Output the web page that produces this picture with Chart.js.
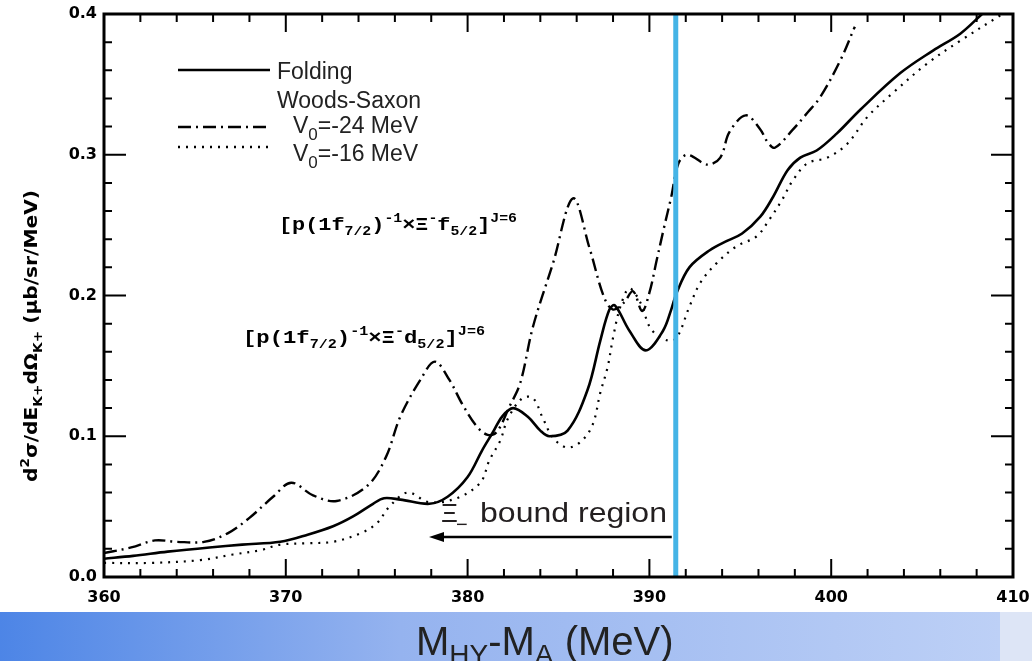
<!DOCTYPE html>
<html lang="en">
<head>
    <meta charset="UTF-8">
    <title>Xi- hypernuclear spectrum</title>
    <script src="https://cdn.jsdelivr.net/npm/chart.js"></script>
    <style>
        body { margin: 0; background: #fff; }
        #wrap { position: relative; width: 1032px; height: 661px; }
    </style>
</head>
<body>
<div id="wrap"><canvas id="chart" width="1032" height="661"></canvas></div>
<script>
// Folding (solid)
const foldE = [360, 361.6, 363.5, 365.8, 367.6, 369.7, 371.2, 372.6, 373.7, 374.8, 375.4, 376.3, 377.9, 378.9, 380, 380.8, 381.4, 381.9, 382.5, 383.3, 384, 384.5, 385.5, 386.6, 387.3, 387.8, 388.1, 388.9, 389.8, 390.75, 391.2, 391.5, 392.2, 393.3, 394.3, 395.1, 396.1, 396.8, 397.6, 398.3, 399.2, 400.3, 401.6, 403.8, 405.6, 407.1, 408.3];
const foldXs = [0.013, 0.015, 0.018, 0.021, 0.023, 0.025, 0.030, 0.036, 0.043, 0.052, 0.056, 0.055, 0.052, 0.057, 0.071, 0.090, 0.103, 0.114, 0.120, 0.114, 0.104, 0.100, 0.104, 0.133, 0.168, 0.190, 0.193, 0.175, 0.161, 0.175, 0.190, 0.202, 0.220, 0.232, 0.239, 0.244, 0.256, 0.270, 0.289, 0.298, 0.303, 0.315, 0.332, 0.358, 0.374, 0.386, 0.400];

// Woods-Saxon V0 = -24 MeV (dash-dot)
const ws24E = [360, 361.5, 362.8, 364, 365.5, 366.8, 368, 369.3, 370.3, 371.5, 372.8, 374.5, 375.5, 376.3, 377.4, 378.2, 379, 379.7, 380.5, 381.1, 381.6, 382.3, 382.9, 383.6, 384.7, 385.8, 386.7, 387.5, 388, 388.6, 389.1, 389.6, 390, 390.4, 390.8, 391.2, 391.6, 392.1, 393.2, 393.9, 394.4, 395.3, 396.1, 396.5, 396.9, 397.9, 398.7, 399.4, 400.5, 401.3];
const ws24Xs = [0.017, 0.021, 0.026, 0.025, 0.025, 0.031, 0.042, 0.057, 0.067, 0.058, 0.054, 0.065, 0.085, 0.114, 0.140, 0.153, 0.140, 0.123, 0.107, 0.101, 0.103, 0.121, 0.138, 0.178, 0.223, 0.269, 0.234, 0.199, 0.190, 0.195, 0.203, 0.189, 0.202, 0.225, 0.248, 0.270, 0.294, 0.300, 0.293, 0.298, 0.316, 0.328, 0.318, 0.309, 0.305, 0.318, 0.330, 0.341, 0.367, 0.391];

// Woods-Saxon V0 = -16 MeV (dotted)
const ws16E = [360, 362.5, 365.3, 367.1, 368.6, 369.7, 371.2, 372.6, 374.1, 375, 375.7, 376.7, 377.9, 379.4, 380.7, 381.2, 381.8, 382.2, 383, 383.6, 384.1, 384.7, 385.5, 386.3, 386.9, 387.3, 387.7, 388, 388.4, 388.9, 389.5, 390.1, 391, 391.5, 392.2, 392.8, 393.7, 394.8, 395.9, 396.6, 397.3, 397.9, 398.7, 399.8, 400.9, 402, 403.4, 405.3, 407.1, 409.3];
const ws16Xs = [0.010, 0.010, 0.012, 0.016, 0.019, 0.023, 0.024, 0.025, 0.031, 0.038, 0.050, 0.060, 0.053, 0.056, 0.067, 0.083, 0.097, 0.112, 0.127, 0.127, 0.114, 0.099, 0.092, 0.097, 0.109, 0.131, 0.149, 0.170, 0.192, 0.205, 0.195, 0.176, 0.168, 0.170, 0.192, 0.209, 0.223, 0.235, 0.242, 0.254, 0.268, 0.282, 0.294, 0.298, 0.308, 0.327, 0.344, 0.365, 0.381, 0.399];

const xTicks = [360, 370, 380, 390, 400, 410];
const yTicks = [0.0, 0.1, 0.2, 0.3, 0.4];
const boundE = 391.45;   // edge of the Xi- bound region

const toPts = (es, vs) => es.map((e, i) => ({ x: e, y: vs[i] }));

const dashDot = [13, 5, 2, 5];
const dots = [2, 6];

// text with sub/superscript pieces, squeezed to a given width
function rich(ctx, parts, x, y, width, size, family) {
    const fs = [size, size * 0.68, size * 0.68];
    const dy = [0, size * 0.3, -size * 0.45];
    let total = 0;
    parts.forEach(p => { ctx.font = `bold ${fs[p[1]]}px ${family}`; total += ctx.measureText(p[0]).width; });
    ctx.save();
    ctx.translate(x, y);
    ctx.scale(width / total, 1);
    let cx = 0;
    parts.forEach(p => {
        ctx.font = `bold ${fs[p[1]]}px ${family}`;
        ctx.fillText(p[0], cx, dy[p[1]]);
        cx += ctx.measureText(p[0]).width;
    });
    ctx.restore();
}

const decor = {
    id: 'decor',
    beforeDraw(chart) {
        const ctx = chart.ctx;
        ctx.save();
        ctx.fillStyle = '#fff';
        ctx.fillRect(0, 0, chart.width, chart.height);
        // bottom band
        const g = ctx.createLinearGradient(0, 0, 1000, 0);
        g.addColorStop(0, '#4d85e6');
        g.addColorStop(0.4, '#95b3ef');
        g.addColorStop(1, '#bdd0f6');
        ctx.fillStyle = g;
        ctx.fillRect(0, 612, 1000, 49);
        ctx.fillStyle = '#dde5f6';
        ctx.fillRect(1000, 612, 32, 49);
        // x axis title
        ctx.fillStyle = '#222';
        ctx.textBaseline = 'alphabetic';
        let x = 416;
        const base = 655;
        [['M', 0], ['HY', 1], ['-M', 0], ['A', 1], [' (MeV)', 0]].forEach(p => {
            ctx.font = p[1] ? '28px "Liberation Sans"' : '40px "Liberation Sans"';
            ctx.fillText(p[0], x, p[1] ? base + 9 : base);
            x += ctx.measureText(p[0]).width;
        });
        ctx.restore();
    },
    afterDatasetsDraw(chart) {
        const ctx = chart.ctx;
        const xs = chart.scales.x, ys = chart.scales.y;
        const a = chart.chartArea;
        ctx.save();

        // blue marker line
        const bx = xs.getPixelForValue(boundE);
        ctx.strokeStyle = '#45b4e6';
        ctx.lineWidth = 5;
        ctx.beginPath(); ctx.moveTo(bx, a.top); ctx.lineTo(bx, a.bottom); ctx.stroke();

        // frame + inward ticks
        ctx.strokeStyle = '#000';
        ctx.lineWidth = 3;
        ctx.strokeRect(a.left, a.top, a.right - a.left, a.bottom - a.top);
        ctx.lineWidth = 2;
        for (let e = 360; e <= 410; e += 2) {
            const px = xs.getPixelForValue(e);
            const len = e % 10 === 0 ? 18 : 8;
            ctx.beginPath();
            ctx.moveTo(px, a.bottom); ctx.lineTo(px, a.bottom - len);
            ctx.moveTo(px, a.top); ctx.lineTo(px, a.top + len);
            ctx.stroke();
        }
        for (let k = 0; k <= 20; k++) {
            const py = ys.getPixelForValue(k * 0.02);
            const len = k % 5 === 0 ? 22 : 8;
            ctx.beginPath();
            ctx.moveTo(a.left, py); ctx.lineTo(a.left + len, py);
            ctx.moveTo(a.right, py); ctx.lineTo(a.right - len, py);
            ctx.stroke();
        }

        // tick labels
        ctx.fillStyle = '#000';
        ctx.font = 'bold 16px "DejaVu Sans"';
        ctx.textAlign = 'center';
        ctx.textBaseline = 'middle';
        xTicks.forEach(t => ctx.fillText(String(t), xs.getPixelForValue(t), 598));
        ctx.textAlign = 'right';
        yTicks.forEach(t => ctx.fillText(t.toFixed(1), 97, ys.getPixelForValue(t)));

        // y axis title
        ctx.save();
        ctx.translate(37, 482);
        ctx.rotate(-Math.PI / 2);
        ctx.textAlign = 'left';
        ctx.textBaseline = 'alphabetic';
        rich(ctx, [['d', 0], ['2', 2], ['\u03c3/dE', 0], ['K+', 1], ['d\u03a9', 0], ['K+', 1], [' (\u03bcb/sr/MeV)', 0]],
            0, 0, 292, 18, '"DejaVu Sans"');
        ctx.restore();

        // state labels
        ctx.textAlign = 'left';
        ctx.textBaseline = 'alphabetic';
        rich(ctx, [['[p(1f', 0], ['7/2', 1], [')', 0], ['-1', 2], ['\u00d7\u039e', 0], ['-', 2], ['f', 0], ['5/2', 1], [']', 0], ['J=6', 2]],
            279, 230, 238, 18, '"Liberation Mono"');
        rich(ctx, [['[p(1f', 0], ['7/2', 1], [')', 0], ['-1', 2], ['\u00d7\u039e', 0], ['-', 2], ['d', 0], ['5/2', 1], [']', 0], ['J=6', 2]],
            243, 343, 242, 18, '"Liberation Mono"');

        // legend
        const samples = [[70, []], [127, dashDot], [147, dots]];
        samples.forEach(s => {
            ctx.setLineDash(s[1]);
            ctx.lineWidth = 2.5;
            ctx.beginPath(); ctx.moveTo(178, s[0]); ctx.lineTo(270, s[0]); ctx.stroke();
        });
        ctx.setLineDash([]);
        ctx.fillStyle = '#222';
        ctx.font = '23px "Liberation Sans"';
        ctx.fillText('Folding', 277, 79);
        ctx.fillText('Woods-Saxon', 277, 108);
        [['-24', 133], ['-16', 161]].forEach(v => {
            ctx.font = '23px "Liberation Sans"';
            ctx.fillText('V', 293, v[1]);
            let w = ctx.measureText('V').width;
            ctx.font = '17px "Liberation Sans"';
            ctx.fillText('0', 293 + w, v[1] + 7);
            w += ctx.measureText('0').width;
            ctx.font = '23px "Liberation Sans"';
            ctx.fillText('=' + v[0] + ' MeV', 293 + w, v[1]);
        });

        // bound region arrow
        ctx.strokeStyle = '#000';
        ctx.lineWidth = 2.5;
        ctx.beginPath(); ctx.moveTo(bx - 4, 537); ctx.lineTo(438, 537); ctx.stroke();
        ctx.beginPath();
        ctx.moveTo(429, 537); ctx.lineTo(444, 532); ctx.lineTo(444, 542); ctx.closePath();
        ctx.fillStyle = '#000'; ctx.fill();
        ctx.fillStyle = '#231f20';
        ctx.font = '26px "Liberation Sans"';
        ctx.fillText('\u039e', 441, 522);
        ctx.font = '20px "Liberation Sans"';
        ctx.fillText('\u2212', 456, 531);
        ctx.font = '28px "Liberation Sans"';
        const bw = ctx.measureText('bound region').width;
        ctx.save();
        ctx.translate(480, 522);
        ctx.scale(187 / bw, 1);
        ctx.fillText('bound region', 0, 0);
        ctx.restore();

        ctx.restore();
    }
};

new Chart(document.getElementById('chart'), {
    type: 'line',
    data: {
        datasets: [
            { label: 'Folding', data: toPts(foldE, foldXs), borderColor: '#000', borderWidth: 2.6 },
            { label: 'V0=-24 MeV', data: toPts(ws24E, ws24Xs), borderColor: '#000', borderWidth: 2.4, borderDash: dashDot },
            { label: 'V0=-16 MeV', data: toPts(ws16E, ws16Xs), borderColor: '#000', borderWidth: 2.2, borderDash: dots }
        ]
    },
    options: {
        responsive: false,
        animation: false,
        devicePixelRatio: 1,
        layout: { padding: { left: 104, right: 19, top: 14, bottom: 84 } },
        elements: { point: { radius: 0 }, line: { tension: 0.35, fill: false } },
        plugins: { legend: { display: false }, tooltip: { enabled: false } },
        scales: {
            x: { type: 'linear', min: 360, max: 410, display: false },
            y: { min: 0, max: 0.4, display: false }
        }
    },
    plugins: [decor]
});
</script>
</body>
</html>
